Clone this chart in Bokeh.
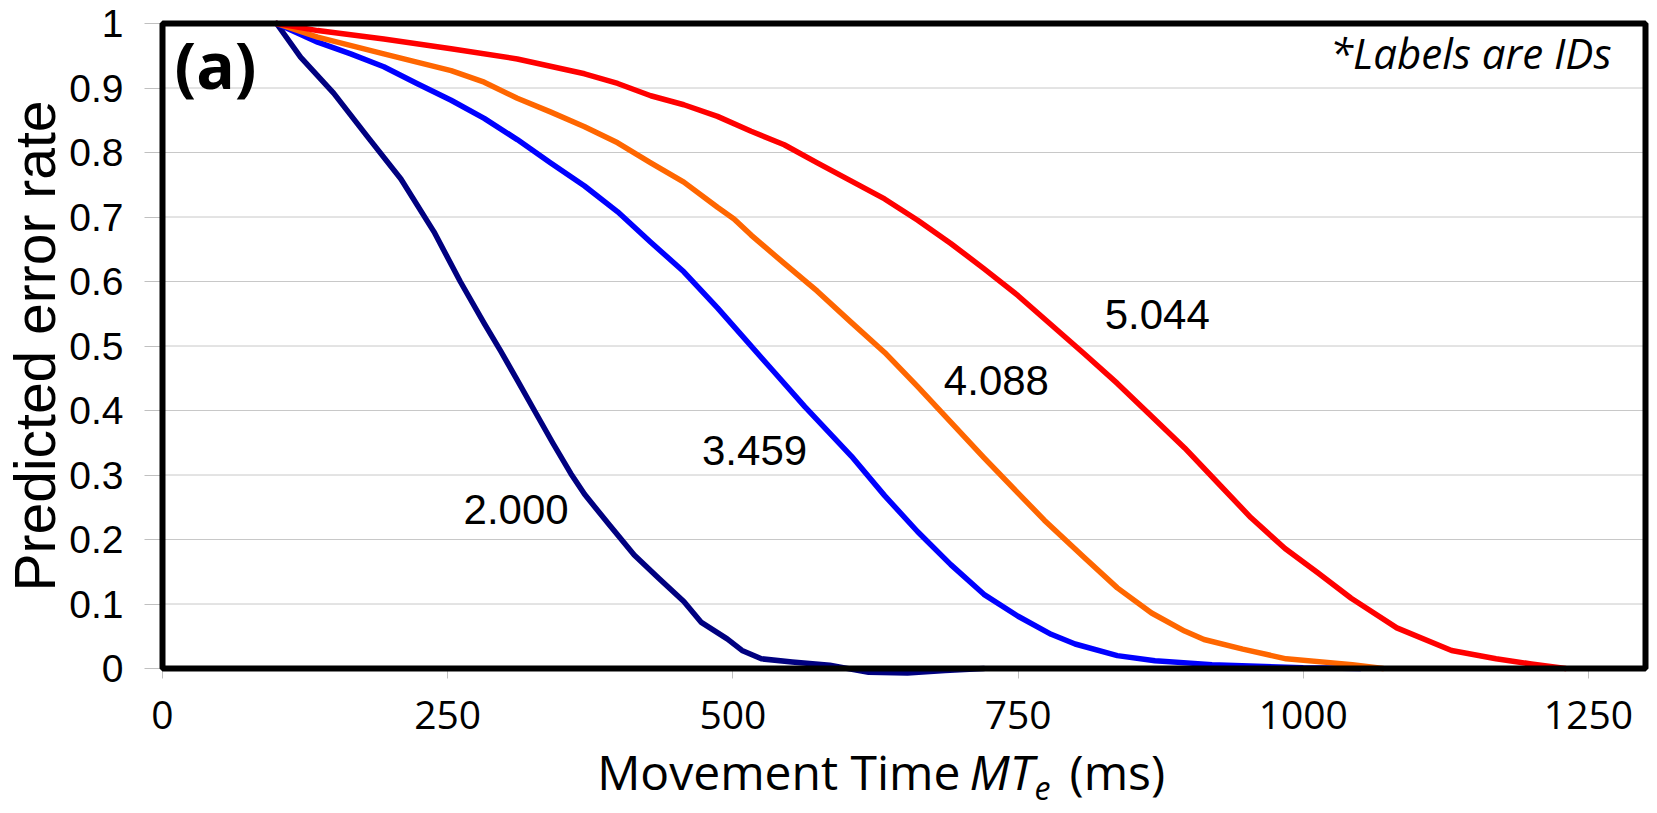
from math import pi
from bokeh.plotting import figure
from bokeh.models import Range1d, FixedTicker, Label, BoxAnnotation
from bokeh.core.properties import value
from bokeh.embed import file_html
from bokeh.resources import INLINE

# ---- data ----
mt_id2000 = [100, 121, 150, 179.5, 209, 238, 261, 282, 296.5, 311, 326, 342, 358, 370, 392,
             413.5, 435, 457, 472, 495, 508, 525, 552, 585, 619, 653, 686, 720]
err_id2000 = [1.0, 0.948, 0.892, 0.825, 0.759, 0.677, 0.600, 0.535, 0.492, 0.447, 0.400, 0.350,
              0.302, 0.270, 0.222, 0.176, 0.140, 0.104, 0.072, 0.046, 0.028, 0.015, 0.010, 0.005,
              -0.006, -0.007, -0.003, 0.0]

mt_id3459 = [100, 136, 165, 194, 223, 253, 282, 311, 340, 370, 399, 428, 457, 486.5, 507, 535,
             563, 604, 633, 662, 691, 720, 750, 779, 800, 837, 870, 920, 1000, 1050]
err_id3459 = [1.0, 0.971, 0.953, 0.933, 0.907, 0.881, 0.853, 0.820, 0.784, 0.748, 0.708, 0.661,
              0.615, 0.559, 0.518, 0.462, 0.406, 0.329, 0.268, 0.212, 0.161, 0.115, 0.081, 0.053,
              0.038, 0.020, 0.012, 0.006, 0.001, 0.0]

mt_id4088 = [100, 136, 194, 223, 253, 282, 311, 340, 370, 399, 428, 457, 486.5, 501, 516, 545,
             574, 603.5, 633, 662, 691, 720, 750, 773, 808, 837, 867, 896, 913, 947, 985, 1043, 1070]
err_id4088 = [1.0, 0.979, 0.953, 0.940, 0.927, 0.909, 0.884, 0.863, 0.840, 0.815, 0.784, 0.754,
              0.715, 0.697, 0.672, 0.628, 0.585, 0.537, 0.490, 0.437, 0.382, 0.327, 0.272, 0.230,
              0.172, 0.125, 0.086, 0.058, 0.045, 0.030, 0.015, 0.006, 0.0]

mt_id5044 = [100, 136, 194, 253, 311, 370, 399, 428, 457, 486.5, 516, 545, 574, 603.5, 633, 662,
             691, 720, 750, 777, 808, 837, 867, 896, 925, 954, 984, 1013, 1042, 1082, 1130, 1169,
             1200, 1230]
err_id5044 = [1.0, 0.989, 0.976, 0.961, 0.945, 0.922, 0.907, 0.888, 0.874, 0.856, 0.833, 0.812,
              0.784, 0.756, 0.728, 0.695, 0.659, 0.620, 0.578, 0.536, 0.488, 0.442, 0.391, 0.342,
              0.288, 0.234, 0.186, 0.148, 0.109, 0.063, 0.028, 0.015, 0.007, 0.0]

id_labels = ["2.000", "3.459", "4.088", "5.044"]
id_label_x = [310, 519, 731, 872]
id_label_y = [0.247, 0.338, 0.447, 0.549]

x_ticks = [0, 250, 500, 750, 1000, 1250]
y_ticks = [0, 0.1, 0.2, 0.3, 0.4, 0.5, 0.6, 0.7, 0.8, 0.9, 1]
y_tick_labels = ["0", "0.1", "0.2", "0.3", "0.4", "0.5", "0.6", "0.7", "0.8", "0.9", "1"]

X_MIN, X_MAX = 0, 1300
Y_MIN, Y_MAX = 0, 1

# ---- layout (pixels on the canvas) ----
W, H = 1657, 813
BOX_L, BOX_R, BOX_T, BOX_B = 162, 1645, 23, 668
sx = (BOX_R - BOX_L) / (X_MAX - X_MIN)
sy = (BOX_B - BOX_T) / (Y_MAX - Y_MIN)

# the frame covers the whole canvas; the plot box is drawn as an annotation
p = figure(width=W, height=H, output_backend="svg", toolbar_location=None, title=None,
           x_range=Range1d(X_MIN - BOX_L / sx, X_MAX + (W - BOX_R) / sx),
           y_range=Range1d(Y_MIN - (H - BOX_B) / sy, Y_MAX + BOX_T / sy),
           min_border=0)
p.outline_line_color = None
p.background_fill_color = "white"
p.border_fill_color = "white"
p.grid.visible = False

# horizontal grid lines at the y ticks, across the plot box
p.segment(x0=X_MIN, x1=X_MAX, y0=y_ticks, y1=y_ticks, line_color="#c8c8c8", line_width=1)

# axes pinned to the plot box edges
p.xaxis.fixed_location = Y_MIN
p.xaxis.ticker = FixedTicker(ticks=x_ticks)
p.xaxis.axis_line_color = None
p.xaxis.major_tick_line_color = "#c0c0c0"
p.xaxis.major_tick_in = 0
p.xaxis.major_tick_out = 10
p.xaxis.minor_tick_line_color = None
p.xaxis.major_label_text_font = "Open Sans"
p.xaxis.major_label_text_font_size = "39px"
p.xaxis.major_label_text_color = "black"
p.xaxis.major_label_standoff = 22

p.yaxis.fixed_location = X_MIN
p.yaxis.ticker = FixedTicker(ticks=y_ticks)
p.yaxis.major_label_overrides = dict(zip(y_ticks, y_tick_labels))
p.yaxis.axis_line_color = None
p.yaxis.major_tick_line_color = "#c0c0c0"
p.yaxis.major_tick_in = 0
p.yaxis.major_tick_out = 18
p.yaxis.minor_tick_line_color = None
p.yaxis.major_label_text_font = "Liberation Sans"
p.yaxis.major_label_text_font_size = "39px"
p.yaxis.major_label_text_color = "black"
p.yaxis.major_label_standoff = 21

colors = ["#000080", "#0000ff", "#ff6600", "#ff0000"]
series = [(mt_id2000, err_id2000), (mt_id3459, err_id3459),
          (mt_id4088, err_id4088), (mt_id5044, err_id5044)]
for (xs, ys), c in zip(series, colors):
    p.line(xs, ys, line_color=c, line_width=5.5, line_join="round", line_cap="round")

p.text(x=id_label_x, y=id_label_y, text=id_labels, text_font=value("Liberation Sans"),
       text_font_size="42px", text_align="center", text_baseline="middle", text_color="black")

# thick black plot box
p.add_layout(BoxAnnotation(left=X_MIN, right=X_MAX, bottom=Y_MIN, top=Y_MAX,
                           fill_color=None, fill_alpha=0, line_color="black", line_alpha=1.0,
                           line_width=6))

# texts in canvas pixels (x from left, y from bottom)
p.add_layout(Label(x=215, y=H - 64, x_units="screen", y_units="screen", text="(a)",
                   text_font="Open Sans", text_font_style="bold", text_font_size="64px",
                   text_align="center", text_baseline="middle", text_color="black"))
p.add_layout(Label(x=1611, y=H - 52, x_units="screen", y_units="screen", text="*Labels are IDs",
                   text_font="Open Sans", text_font_style="italic", text_font_size="42px",
                   text_align="right", text_baseline="middle", text_color="black"))

p.add_layout(Label(x=34, y=H - (BOX_T + BOX_B) / 2, x_units="screen", y_units="screen",
                   text="Predicted error rate", angle=pi / 2,
                   text_font="Liberation Sans", text_font_size="57px",
                   text_align="center", text_baseline="middle", text_color="black"))

mid = H - 771
p.add_layout(Label(x=960, y=mid, x_units="screen", y_units="screen", text="Movement Time",
                   text_font="Open Sans", text_font_size="48px", text_align="right",
                   text_baseline="middle", text_color="black"))
p.add_layout(Label(x=969, y=mid, x_units="screen", y_units="screen", text="MT",
                   text_font="Open Sans", text_font_style="italic", text_font_size="48px",
                   text_align="left", text_baseline="middle", text_color="black"))
p.add_layout(Label(x=1034, y=H - 787, x_units="screen", y_units="screen", text="e",
                   text_font="Open Sans", text_font_style="italic", text_font_size="32px",
                   text_align="left", text_baseline="middle", text_color="black"))
p.add_layout(Label(x=1069, y=mid, x_units="screen", y_units="screen", text="(ms)",
                   text_font="Open Sans", text_font_size="48px", text_align="left",
                   text_baseline="middle", text_color="black"))

open("out.html", "w").write(file_html(p, INLINE))
